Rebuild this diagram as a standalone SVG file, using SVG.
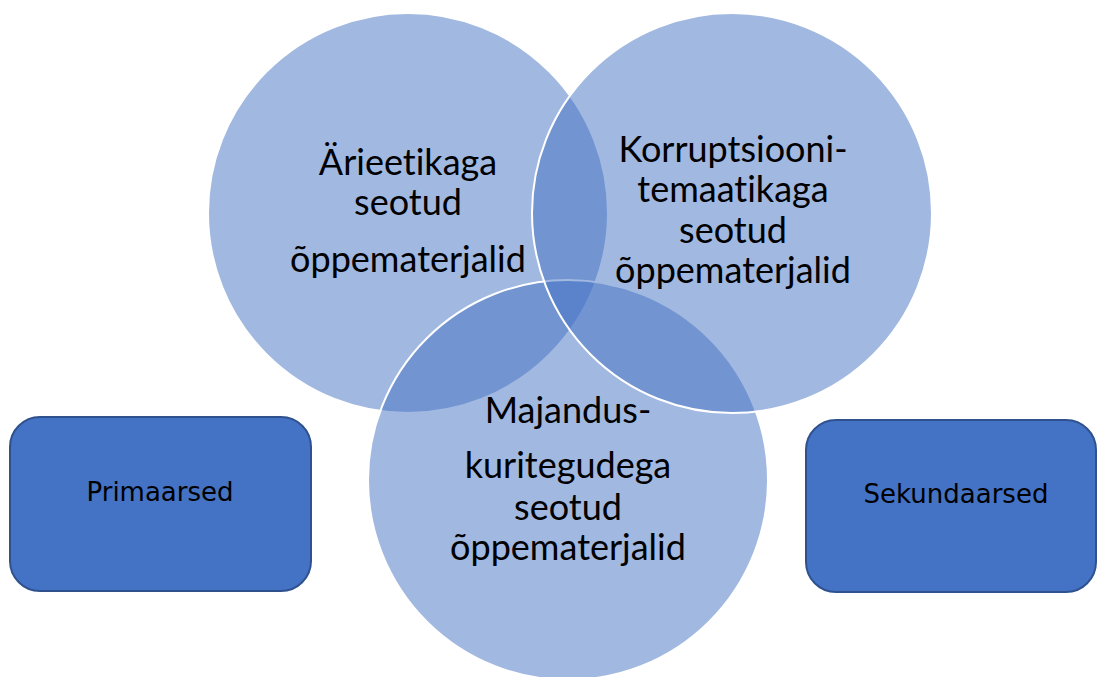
<svg xmlns="http://www.w3.org/2000/svg" width="1098" height="677" viewBox="0 0 1098 677">
<style>
.c{fill:#4472C4;fill-opacity:0.5;stroke:#FFFFFF;stroke-width:2}
.ct{font-family:Lato,"Open Sans",sans-serif;font-size:36px;fill:#000;text-anchor:middle;font-variant-ligatures:none;font-feature-settings:"liga" 0}
.b{fill:#4472C4;stroke:#2F528F;stroke-width:2}
.bt{font-family:"DejaVu Sans",Verdana,sans-serif;font-size:26px;fill:#000;text-anchor:middle}
</style>
<rect width="1098" height="677" fill="#FFFFFF"/>
<g id="circle-arietika">
<circle class="c" cx="408" cy="213" r="200"/>
</g>
<g id="circle-majandus">
<circle class="c" cx="568" cy="480" r="200"/>
</g>
<g id="circle-korruptsioon">
<circle class="c" cx="732" cy="213" r="200"/>
</g>
<g id="label-arietika">
<text class="ct" x="408" y="175">Ärieetikaga</text>
<text class="ct" x="408" y="215">seotud</text>
<text class="ct" x="408" y="272">õppematerjalid</text>
</g>
<g id="label-korruptsioon">
<text class="ct" x="733" y="162">Korruptsiooni-</text>
<text class="ct" x="733" y="202">temaatikaga</text>
<text class="ct" x="733" y="243">seotud</text>
<text class="ct" x="733" y="283">õppematerjalid</text>
</g>
<g id="label-majandus">
<text class="ct" x="568" y="423">Majandus-</text>
<text class="ct" x="568" y="478">kuritegudega</text>
<text class="ct" x="568" y="520">seotud</text>
<text class="ct" x="568" y="560">õppematerjalid</text>
</g>
<g id="box-primaarsed">
<rect class="b" x="10" y="417" width="301" height="174" rx="30" ry="30"/>
<text class="bt" x="160" y="501">Primaarsed</text>
</g>
<g id="box-sekundaarsed">
<rect class="b" x="806" y="420" width="290" height="172" rx="30" ry="30"/>
<text class="bt" x="956" y="503">Sekundaarsed</text>
</g>
<g id="connectors"></g>
</svg>
